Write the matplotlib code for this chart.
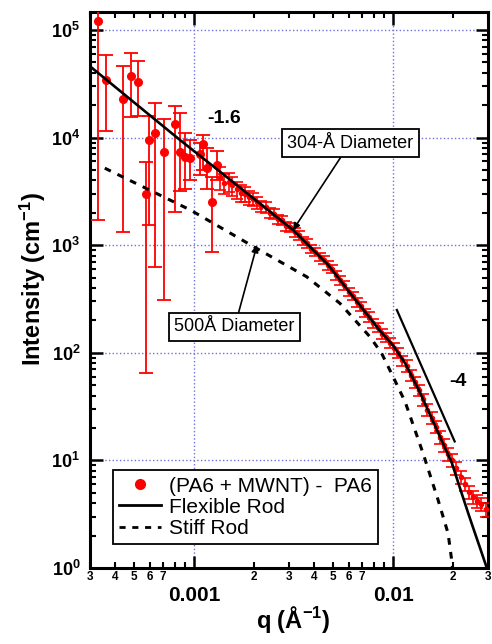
import matplotlib
matplotlib.use('Agg')
import matplotlib.pyplot as plt
from matplotlib.lines import Line2D
from matplotlib.ticker import FixedLocator, FixedFormatter, LogLocator, NullFormatter, FuncFormatter
import numpy as np

plt.rcParams['font.family'] = ['Liberation Sans', 'DejaVu Sans']
plt.rcParams['mathtext.fontset'] = 'custom'
plt.rcParams['mathtext.rm'] = 'Liberation Sans:bold'
plt.rcParams['mathtext.it'] = 'Liberation Sans:bold'
plt.rcParams['mathtext.bf'] = 'Liberation Sans:bold'
plt.rcParams['mathtext.default'] = 'rm'

#### data
# low-q points with large error bars
q_sparse = [0.00033, 0.000361, 0.000441, 0.000482, 0.000525, 0.000572, 0.000596, 0.000636, 0.000705,
            0.00080, 0.00085, 0.00090, 0.000954, 0.00107, 0.00111, 0.00116, 0.00123, 0.00130]
I_sparse = [1.2e5, 3.4e4, 2.3e4, 3.7e4, 3.3e4, 3.0e3, 9.6e3, 1.1e4, 7.4e3,
            1.34e4, 7.4e3, 6.6e3, 6.4e3, 7.1e3, 8.7e3, 5.2e3, 2.5e3, 5.6e3]
I_sparse_lo = [1.7e3, 1.16e4, 1.33e3, 1.55e4, 1.58e4, 65, 1.55e3, 630, 310,
               2.05e3, 3.2e3, 3.3e3, 4.0e3, 4.5e3, 5.0e3, 3.3e3, 860, 4.0e3]
I_sparse_hi = [5e5, 5.9e4, 4.6e4, 6.1e4, 5.2e4, 5.9e3, 1.6e4, 2.1e4, 1.5e4,
               1.97e4, 1.7e4, 1.1e4, 9.5e3, 9.0e3, 1.06e4, 8.0e3, 4.3e3, 7.5e3]

# dense points (higher q)
q_dense = [0.00135, 0.00142, 0.00149, 0.00156, 0.00164, 0.00172, 0.00180, 0.00189, 0.00198,
           0.00208, 0.00218, 0.00229, 0.00240, 0.00252, 0.00264, 0.00277, 0.00291, 0.00305,
           0.00320, 0.00336, 0.00353, 0.00370, 0.00388,
           0.00407, 0.00427, 0.00448,
           0.00470, 0.00493, 0.00517,
           0.00543, 0.00570, 0.00598,
           0.00627, 0.00658, 0.00690, 0.00724,
           0.00760, 0.00797, 0.00836,
           0.00877, 0.00920, 0.00966,
           0.01013, 0.01063, 0.01115,
           0.01170, 0.01228, 0.01288, 0.01352,
           0.01418, 0.01488, 0.01561,
           0.01638, 0.01719,
           0.01803, 0.01892,
           0.01985, 0.02083, 0.02185, 0.02293, 0.02406, 0.02524, 0.02648, 0.02779, 0.02916]
I_dense = [4.3e3, 3.8e3, 3.9e3, 3.6e3, 3.3e3, 3.05e3, 3.0e3, 2.8e3, 2.7e3,
           2.5e3, 2.3e3, 2.25e3, 2.0e3, 1.95e3, 1.75e3, 1.7e3, 1.5e3, 1.47e3,
           1.32e3, 1.24e3, 1.1e3, 1.04e3, 930,
           870, 780, 730,
           650, 600, 525,
           470, 425, 370,
           338, 295, 270, 236,
           216, 188, 172,
           150, 140, 124,
           110, 100, 85,
           76, 62, 53, 45,
           37, 29.5, 25,
           20.5, 16.5,
           13.8, 11.5,
           10.1, 8.5, 7.0, 6.0, 5.1, 4.6, 4.2, 3.9, 3.5]
rel_err_dense = [0.25, 0.22, 0.2, 0.2, 0.18, 0.18, 0.16, 0.15, 0.14,
                 0.13, 0.12, 0.12, 0.11, 0.11, 0.1, 0.1, 0.1, 0.1,
                 0.09, 0.09, 0.09, 0.09, 0.09,
                 0.09, 0.09, 0.09,
                 0.09, 0.09, 0.09,
                 0.09, 0.09, 0.09,
                 0.09, 0.09, 0.09, 0.09,
                 0.1, 0.1, 0.1,
                 0.1, 0.1, 0.1,
                 0.11, 0.11, 0.11,
                 0.12, 0.12, 0.12, 0.12,
                 0.13, 0.13, 0.13,
                 0.13, 0.13,
                 0.14, 0.14,
                 0.14, 0.14, 0.14, 0.14, 0.14, 0.14, 0.14, 0.14, 0.14]

# model curves
q_flex = [0.0003, 0.0005, 0.00085, 0.0013, 0.002, 0.00315, 0.0040, 0.00464, 0.0053, 0.0061, 0.0073,
          0.0086, 0.0100, 0.0115, 0.0136, 0.0160, 0.0180, 0.0197, 0.0220, 0.0239, 0.0250, 0.0270, 0.0296]
I_flex = [4.6e4, 2.12e4, 9.5e3, 5.1e3, 2.7e3, 1.38e3, 890, 680, 500, 357, 235,
          160, 117, 80, 43.5, 22.4, 13.8, 9.6, 5.1, 3.2, 2.5, 1.65, 1.0]
q_stiff = [0.000356, 0.00096, 0.00206, 0.00368, 0.0054, 0.00765, 0.00876, 0.0100, 0.0115,
           0.01416, 0.01683, 0.0189, 0.0197, 0.0200]
I_stiff = [5.2e3, 2.12e3, 935, 509, 289, 141, 99, 60, 35,
           11.6, 4.3, 2.1, 1.19, 0.9]

# -4 slope guide
q_guide = [0.01045, 0.0204]
I_guide = [250, 15]

xminor = [3e-4, 4e-4, 5e-4, 6e-4, 7e-4, 8e-4, 9e-4, 2e-3, 3e-3, 4e-3, 5e-3, 6e-3, 7e-3, 8e-3, 9e-3, 2e-2, 3e-2]
xminor_labels = ['3', '4', '5', '6', '7', '', '', '2', '3', '4', '5', '6', '7', '', '', '2', '3']
xmajor = [0.001, 0.01]
xmajor_labels = ['0.001', '0.01']

#### plot
fig = plt.figure(figsize=(4.92, 6.44), dpi=100)
ax = fig.add_axes([90/492, 1-568/644, 398/492, 556/644])
ax.set_xscale('log')
ax.set_yscale('log')

ax.grid(which='major', color='#7070dd', ls=':', lw=1.0)
ax.set_axisbelow(True)

sp = np.array(I_sparse)
ax.errorbar(q_sparse, I_sparse, yerr=[sp-np.array(I_sparse_lo), np.array(I_sparse_hi)-sp],
            fmt='o', color='red', ms=5.5, elinewidth=1.3, capsize=5, capthick=1.3, zorder=3)
de = np.array(I_dense)
ax.errorbar(q_dense, I_dense, yerr=de*np.array(rel_err_dense),
            fmt='o', color='red', ms=3, elinewidth=1.2, capsize=4, capthick=1.2, zorder=3)

ax.plot(q_flex, I_flex, color='black', lw=1.9, zorder=4)
ax.plot(q_stiff, I_stiff, color='black', lw=2.2, ls=(0, (2.2, 2.4)), zorder=4)
ax.plot(q_guide, I_guide, color='black', lw=1.6, zorder=4)

ax.set_xlim(0.0003, 0.03)
ax.set_ylim(1, 1.47e5)

ax.xaxis.set_major_locator(FixedLocator(xmajor))
ax.xaxis.set_major_formatter(FixedFormatter(xmajor_labels))
ax.xaxis.set_minor_locator(FixedLocator(xminor))
ax.xaxis.set_minor_formatter(FixedFormatter(xminor_labels))
ax.yaxis.set_major_locator(LogLocator(base=10, numticks=10))
ax.yaxis.set_major_formatter(FuncFormatter(lambda v, p: '$10^{%d}$' % round(np.log10(v))))
ax.yaxis.set_minor_locator(LogLocator(base=10, subs=np.arange(2, 10), numticks=10))
ax.yaxis.set_minor_formatter(NullFormatter())

ax.tick_params(which='both', direction='in', top=True, right=True)
ax.tick_params(which='major', length=9, width=1.8)
ax.tick_params(which='minor', length=4.5, width=1.5)
ax.tick_params(axis='x', which='major', labelsize=15, pad=13)
ax.tick_params(axis='x', which='minor', labelsize=8.5, pad=2)
ax.tick_params(axis='y', which='major', labelsize=13, pad=7)
for t in ax.get_xticklabels(which='both'):
    t.set_fontweight('bold')
for s in ax.spines.values():
    s.set_linewidth(2.2)

ax.set_ylabel('Intensity (cm$^{-1}$)', fontsize=17, fontweight='bold')
ax.set_xlabel('q (Å$^{-1}$)', fontsize=17, fontweight='bold')
ax.yaxis.set_label_coords(-0.105, 0.52)
ax.xaxis.set_label_coords(0.51, -0.065)

ax.text(0.00116, 1.52e4, '-1.6', fontsize=14, fontweight='bold', ha='left', va='center')
ax.text(0.0212, 54, '-4', fontsize=14, fontweight='bold', ha='center', va='center')

bx = dict(boxstyle='square,pad=0.3', fc='white', ec='black', lw=1.3)
ap = dict(arrowstyle='-|>', color='black', lw=1.2, mutation_scale=10, shrinkA=0, shrinkB=0)
ax.annotate('304-Å Diameter', xy=(0.00314, 1.38e3), xytext=(0.00608, 8.9e3),
            fontsize=13, ha='center', va='center', bbox=bx, arrowprops=ap, zorder=6)
ax.annotate('500Å Diameter', xy=(0.00207, 1.0e3), xytext=(0.0016, 174),
            fontsize=13, ha='center', va='center', bbox=bx, arrowprops=ap, zorder=6)

handles = [Line2D([], [], marker='o', color='red', ls='none', ms=7),
           Line2D([], [], color='black', lw=2),
           Line2D([], [], color='black', lw=2, ls=(0, (2.2, 2.4)))]
labels = ['(PA6 + MWNT) -  PA6', 'Flexible Rod', 'Stiff Rod']
leg = ax.legend(handles, labels, loc='lower left', bbox_to_anchor=(0.058, 0.043), borderaxespad=0,
                fontsize=15, frameon=True, fancybox=False, framealpha=1, edgecolor='black',
                handlelength=2.0, handletextpad=0.4, labelspacing=0.1, borderpad=0.3)
leg.get_frame().set_linewidth(1.3)
leg.set_zorder(7)

plt.savefig('out.png', dpi=100)
